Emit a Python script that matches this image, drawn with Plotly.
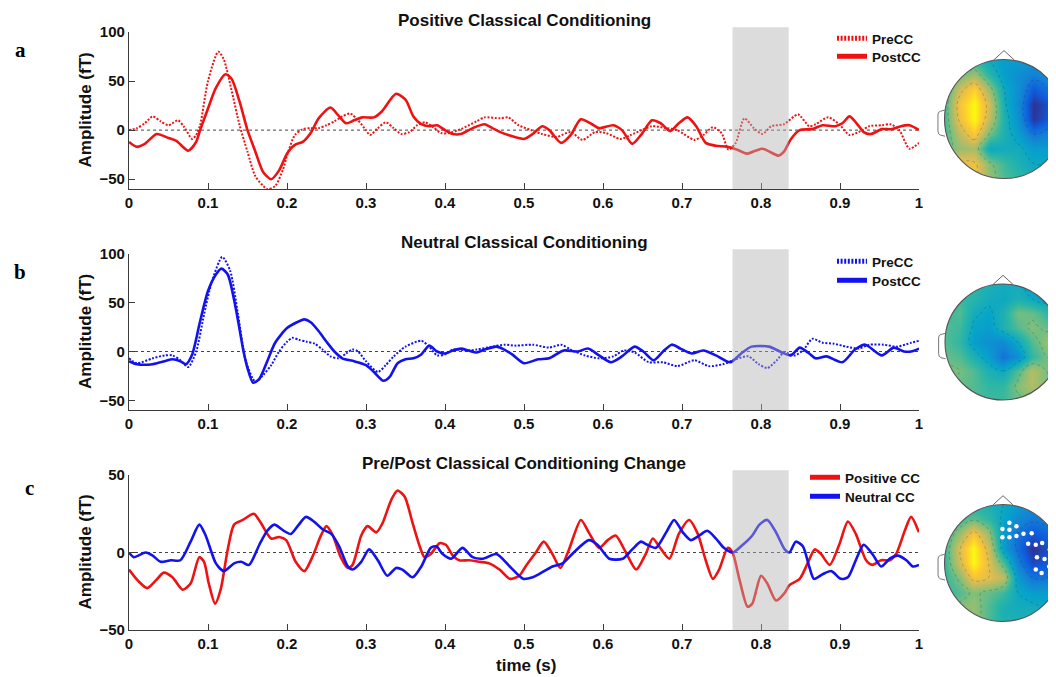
import plotly.graph_objects as go
import numpy as np

# ---------------- data ----------------
a_pre = [(0,0),(0.01,2),(0.02,7),(0.03,14),(0.04,9),(0.05,5),(0.062,10),(0.07,3),(0.08,-9),(0.085,-5),(0.09,5),(0.1,50),(0.113,80),(0.12,72),(0.13,40),(0.14,5),(0.15,-22),(0.16,-47),(0.175,-60),(0.185,-57),(0.195,-40),(0.2,-26),(0.21,-5),(0.22,1),(0.23,2),(0.24,2),(0.25,5),(0.26,9),(0.27,14),(0.28,17),(0.29,10),(0.3,0),(0.305,-5),(0.315,2),(0.325,8),(0.335,2),(0.345,-4),(0.355,-2),(0.365,5),(0.375,8),(0.385,3),(0.395,-3),(0.405,-3),(0.42,1),(0.44,9),(0.45,13),(0.47,12),(0.48,13),(0.493,5),(0.509,0),(0.523,-4),(0.541,-7),(0.559,-2),(0.574,-10),(0.59,-2),(0.604,-3),(0.622,-9),(0.635,-5),(0.649,0),(0.662,4),(0.68,2),(0.694,0),(0.716,-10),(0.727,-5),(0.739,3),(0.75,-3),(0.759,-20),(0.768,-13),(0.779,12),(0.791,2),(0.802,-4),(0.813,4),(0.829,6),(0.847,16),(0.861,4),(0.869,6),(0.885,13),(0.899,6),(0.912,-5),(0.926,-1),(0.937,4),(0.953,5),(0.964,6),(0.975,0),(0.988,-19),(1.0,-13)]
a_post = [(0,-12),(0.01,-17),(0.02,-14),(0.035,-4),(0.05,-8),(0.06,-11),(0.075,-21),(0.085,-12),(0.09,0),(0.1,22),(0.11,43),(0.122,57),(0.13,52),(0.14,29),(0.15,0),(0.16,-22),(0.17,-43),(0.18,-50),(0.19,-41),(0.2,-24),(0.21,-15),(0.22,-12),(0.23,-3),(0.24,12),(0.255,23),(0.265,15),(0.275,7),(0.285,10),(0.295,13),(0.31,13),(0.32,19),(0.338,37),(0.35,31),(0.36,14),(0.37,6),(0.38,4),(0.39,5),(0.4,0),(0.41,-4),(0.42,-4),(0.435,2),(0.45,6),(0.46,2),(0.47,-2),(0.48,-5),(0.5,-9),(0.511,-4),(0.523,4),(0.532,0),(0.547,-13),(0.559,-5),(0.572,11),(0.586,6),(0.595,2),(0.613,5),(0.624,0),(0.637,-14),(0.649,-4),(0.662,10),(0.673,7),(0.685,-1),(0.696,7),(0.707,13),(0.718,4),(0.73,-13),(0.743,-16),(0.757,-17),(0.77,-20),(0.782,-24),(0.793,-21),(0.802,-19),(0.811,-22),(0.822,-26),(0.829,-22),(0.838,-9),(0.849,0),(0.865,1),(0.878,5),(0.894,4),(0.903,7),(0.912,14),(0.921,7),(0.93,-2),(0.939,-4),(0.953,1),(0.966,1),(0.977,4),(0.988,5),(1.0,0)]
b_pre = [(0,-7),(0.01,-12),(0.03,-7),(0.045,-4),(0.055,-4),(0.065,-9),(0.075,-16),(0.085,0),(0.095,38),(0.105,72),(0.118,97),(0.128,83),(0.138,38),(0.148,-10),(0.16,-31),(0.17,-24),(0.18,-14),(0.19,0),(0.2,10),(0.207,14),(0.215,12),(0.225,10),(0.235,8),(0.245,2),(0.255,-5),(0.265,-7),(0.275,-2),(0.283,2),(0.29,0),(0.3,-10),(0.315,-21),(0.325,-14),(0.335,-5),(0.35,5),(0.37,11),(0.38,5),(0.39,-4),(0.4,-3),(0.41,2),(0.43,1),(0.44,2),(0.46,5),(0.475,7),(0.49,6),(0.511,7),(0.532,4),(0.547,7),(0.559,2),(0.577,-4),(0.595,-7),(0.613,-5),(0.626,1),(0.64,-1),(0.658,-11),(0.676,-11),(0.694,-15),(0.716,-9),(0.734,-15),(0.752,-13),(0.768,-8),(0.784,-5),(0.797,-13),(0.808,-17),(0.82,-9),(0.829,-1),(0.843,-4),(0.854,2),(0.865,13),(0.878,9),(0.892,8),(0.908,5),(0.924,3),(0.937,7),(0.955,7),(0.973,5),(0.99,9),(1.0,11)]
b_post = [(0,-10),(0.01,-13),(0.03,-13),(0.045,-10),(0.055,-8),(0.065,-10),(0.072,-13),(0.08,-3),(0.09,31),(0.1,62),(0.11,79),(0.117,85),(0.125,79),(0.135,45),(0.145,0),(0.15,-17),(0.157,-32),(0.165,-28),(0.175,-10),(0.185,9),(0.2,24),(0.21,29),(0.222,33),(0.23,30),(0.24,21),(0.25,10),(0.26,0),(0.27,-7),(0.285,-10),(0.3,-14),(0.31,-21),(0.322,-30),(0.33,-26),(0.34,-12),(0.35,-8),(0.36,-7),(0.37,-3),(0.38,6),(0.39,0),(0.4,-2),(0.41,1),(0.42,3),(0.43,1),(0.44,-1),(0.45,2),(0.465,5),(0.475,2),(0.485,-3),(0.5,-12),(0.518,-8),(0.532,-7),(0.55,1),(0.568,0),(0.581,3),(0.595,-4),(0.61,-11),(0.624,-5),(0.64,5),(0.651,0),(0.664,-9),(0.676,0),(0.687,7),(0.698,3),(0.712,-2),(0.727,1),(0.743,-4),(0.761,-11),(0.775,-2),(0.788,5),(0.81,5),(0.824,0),(0.838,-4),(0.849,4),(0.861,-2),(0.869,-7),(0.883,-5),(0.903,-11),(0.919,2),(0.932,7),(0.953,-4),(0.968,4),(0.981,0),(0.99,0),(1.0,3)]
c_pos = [(0,-11),(0.011,-18),(0.023,-23),(0.034,-18),(0.044,-13),(0.055,-16),(0.068,-24),(0.078,-20),(0.089,-3),(0.095,-6),(0.101,-20),(0.109,-33),(0.116,-24),(0.125,2),(0.133,18),(0.144,21),(0.158,25),(0.167,19),(0.18,9),(0.19,10),(0.199,8),(0.211,-6),(0.222,-12),(0.232,-3),(0.243,11),(0.25,17),(0.258,11),(0.268,-3),(0.277,-10),(0.283,-8),(0.294,11),(0.302,17),(0.313,13),(0.321,19),(0.332,34),(0.34,40),(0.349,36),(0.359,19),(0.368,4),(0.374,-3),(0.382,-1),(0.393,6),(0.401,5),(0.41,-2),(0.418,-5),(0.431,-5),(0.444,-6),(0.456,-7),(0.469,-11),(0.482,-17),(0.494,-15),(0.502,-9),(0.515,0),(0.525,7),(0.536,-1),(0.546,-10),(0.557,2),(0.572,21),(0.582,13),(0.595,3),(0.606,8),(0.616,11),(0.629,0),(0.642,-11),(0.654,-1),(0.663,9),(0.671,4),(0.684,-4),(0.696,12),(0.709,21),(0.72,12),(0.73,-5),(0.739,-17),(0.747,-11),(0.758,3),(0.764,0),(0.773,-18),(0.783,-35),(0.789,-33),(0.8,-15),(0.808,-20),(0.819,-31),(0.83,-26),(0.836,-21),(0.849,-17),(0.859,-7),(0.868,2),(0.876,-1),(0.887,-8),(0.899,5),(0.91,20),(0.92,12),(0.933,-5),(0.941,-8),(0.952,-5),(0.963,-5),(0.971,-1),(0.982,14),(0.99,23),(1.0,13)]
c_neu = [(0,0),(0.006,-3),(0.021,0),(0.03,-2),(0.04,-6),(0.053,-5),(0.065,-5),(0.078,7),(0.089,18),(0.097,11),(0.11,-7),(0.12,-12),(0.133,-7),(0.142,-6),(0.152,-8),(0.165,5),(0.175,14),(0.184,18),(0.196,14),(0.205,12),(0.215,18),(0.224,23),(0.234,20),(0.245,15),(0.256,12),(0.266,4),(0.277,-9),(0.283,-11),(0.294,-6),(0.304,2),(0.315,-5),(0.327,-15),(0.338,-10),(0.346,-11),(0.359,-16),(0.37,-9),(0.382,3),(0.389,4),(0.397,-1),(0.408,-4),(0.422,3),(0.435,-3),(0.448,-4),(0.465,-1),(0.482,-9),(0.499,-17),(0.511,-16),(0.519,-14),(0.536,-9),(0.549,-7),(0.563,0),(0.582,8),(0.593,5),(0.608,-4),(0.625,-4),(0.637,2),(0.648,7),(0.656,5),(0.667,3),(0.68,13),(0.69,21),(0.701,13),(0.711,8),(0.722,11),(0.732,14),(0.743,9),(0.753,3),(0.764,0),(0.777,5),(0.789,11),(0.798,18),(0.808,21),(0.819,13),(0.83,2),(0.836,0),(0.844,7),(0.853,4),(0.861,-9),(0.867,-17),(0.878,-14),(0.889,-12),(0.901,-17),(0.91,-16),(0.92,-5),(0.93,5),(0.941,-1),(0.952,-9),(0.963,-4),(0.973,-2),(0.984,-5),(0.992,-9),(1.0,-8)]

window = [0.764, 0.835]
x_ticks = [0, 0.1, 0.2, 0.3, 0.4, 0.5, 0.6, 0.7, 0.8, 0.9, 1]
x_ticklabels = ["0", "0.1", "0.2", "0.3", "0.4", "0.5", "0.6", "0.7", "0.8", "0.9", "1"]
titles = ["Positive Classical Conditioning", "Neutral Classical Conditioning",
          "Pre/Post Classical Conditioning Change"]
letters = ["a", "b", "c"]

# topographic maps: 9x9 grid, rows from bottom (y=-1) to top (y=1)
topo_grid = [-1, -0.75, -0.5, -0.25, 0, 0.25, 0.5, 0.75, 1]
topo_a = [
    [0.80,0.85,0.85,0.65,0.55,0.50,0.45,0.45,0.45],
    [0.75,0.82,0.82,0.62,0.52,0.45,0.40,0.40,0.40],
    [0.55,0.65,0.68,0.40,0.42,0.42,0.35,0.35,0.40],
    [0.52,0.72,0.88,0.60,0.45,0.35,0.20,0.25,0.35],
    [0.52,0.82,1.00,0.72,0.45,0.30,0.03,0.12,0.30],
    [0.52,0.85,1.00,0.75,0.42,0.28,0.02,0.10,0.30],
    [0.50,0.75,0.90,0.65,0.40,0.30,0.12,0.20,0.30],
    [0.50,0.58,0.66,0.48,0.35,0.30,0.25,0.30,0.35],
    [0.50,0.50,0.48,0.40,0.35,0.35,0.30,0.35,0.40]]
topo_b = [
    [0.55,0.55,0.55,0.52,0.52,0.58,0.60,0.55,0.55],
    [0.60,0.58,0.55,0.50,0.50,0.62,0.70,0.60,0.55],
    [0.62,0.60,0.55,0.45,0.40,0.55,0.70,0.60,0.58],
    [0.58,0.55,0.45,0.35,0.20,0.30,0.50,0.60,0.62],
    [0.55,0.50,0.35,0.30,0.28,0.40,0.55,0.65,0.66],
    [0.55,0.52,0.38,0.35,0.45,0.55,0.62,0.58,0.60],
    [0.52,0.55,0.42,0.38,0.45,0.60,0.58,0.50,0.50],
    [0.50,0.52,0.48,0.42,0.40,0.45,0.40,0.35,0.40],
    [0.50,0.50,0.48,0.45,0.42,0.42,0.35,0.28,0.32]]
topo_c = [
    [0.60,0.65,0.65,0.55,0.45,0.45,0.45,0.45,0.45],
    [0.55,0.62,0.65,0.55,0.45,0.42,0.42,0.40,0.40],
    [0.50,0.55,0.62,0.58,0.52,0.40,0.35,0.35,0.40],
    [0.50,0.62,0.85,0.80,0.72,0.35,0.20,0.20,0.30],
    [0.50,0.75,1.00,0.80,0.55,0.25,0.08,0.12,0.25],
    [0.50,0.78,1.00,0.75,0.35,0.18,0.02,0.08,0.20],
    [0.50,0.65,0.85,0.65,0.35,0.20,0.12,0.15,0.25],
    [0.50,0.52,0.58,0.50,0.38,0.28,0.22,0.25,0.30],
    [0.45,0.45,0.45,0.45,0.40,0.35,0.30,0.30,0.35]]
sensor_x = [0.11,-0.01,0.11,0.23,-0.01,0.11,0.23,0.35,0.49,0.43,0.56,0.67,0.80,0.58,0.71,0.79,0.56,0.66]
sensor_y = [0.69,0.58,0.57,0.63,0.44,0.44,0.46,0.50,0.51,0.33,0.31,0.34,0.23,0.10,0.07,-0.06,-0.11,-0.17]

parula = [[0.0, "rgb(53,42,135)"], [0.125, "rgb(15,92,221)"], [0.25, "rgb(20,129,214)"],
          [0.375, "rgb(6,164,202)"], [0.5, "rgb(46,183,164)"], [0.625, "rgb(135,191,119)"],
          [0.75, "rgb(209,187,89)"], [0.875, "rgb(254,200,50)"], [1.0, "rgb(249,251,14)"]]

RED = "rgb(238,18,18)"
BLUE = "rgb(18,18,238)"

# ---------------- layout geometry (screen pixels of the 1056x677 window) ----------------
OFF = 8                      # page body margin of the html page
W, H = 1056 - OFF, 677 - OFF
X0, X1 = 129, 919
panels_px = [(32, 189, [-60, 100], [100, 50, 0, -50]),
             (254, 410, [-60, 100], [100, 50, 0, -50]),
             (475, 630, [-50, 50], [50, 0, -50])]
heads_px = [(1004, 119, 59.5, 40, 200), (1003, 342, 58, 262, 420), (1003, 563, 58.5, 485, 640)]
legend_px = [(832, 23), (832, 41), (832, 246), (832, 265), (805, 462), (805, 481)]

def px(x):
    return (x - OFF) / W

def py(y):
    return 1 - (y - OFF) / H

fig = go.Figure()

def add_line(data, xa, ya, color, dash, width, name, legend):
    t = [p[0] for p in data]
    v = [p[1] for p in data]
    fig.add_trace(go.Scatter(x=t, y=v, mode="lines", name=name, xaxis=xa, yaxis=ya,
                             line=dict(color=color, width=width, dash=dash, shape="spline", smoothing=0.7),
                             legend=legend, showlegend=True, hoverinfo="skip"))

DOT = "2px,1.6px"
add_line(a_pre, "x", "y", RED, DOT, 2, "PreCC", "legend")
add_line(a_post, "x", "y", RED, "solid", 2.6, "PostCC", "legend2")
add_line(b_pre, "x2", "y2", BLUE, DOT, 2, "PreCC", "legend3")
add_line(b_post, "x2", "y2", BLUE, "solid", 2.6, "PostCC", "legend4")
add_line(c_pos, "x3", "y3", RED, "solid", 2.6, "Positive CC", "legend5")
add_line(c_neu, "x3", "y3", BLUE, "solid", 2.6, "Neutral CC", "legend6")

layout = dict(width=W, height=H, margin=dict(l=0, r=0, t=0, b=0, pad=0, autoexpand=False),
              autosize=False,
              paper_bgcolor="white", plot_bgcolor="rgba(0,0,0,0)",
              font=dict(family="Liberation Sans, Arial", color="black"))
shapes = []
annotations = []
AXC = "#3c3c3c"
TXT = "#111"
for i, (top, bot, yr, yt) in enumerate(panels_px):
    s = "" if i == 0 else str(i + 1)
    layout["xaxis" + s] = dict(domain=[px(X0), px(X1)], range=[0, 1], anchor="y" + s, automargin=False,
                               showline=True, linecolor=AXC, linewidth=1.3, ticks="inside",
                               ticklen=6, tickwidth=1.3, tickcolor=AXC, showgrid=False, zeroline=False,
                               tickvals=x_ticks, ticktext=x_ticklabels,
                               tickfont=dict(size=15, weight="bold", color=TXT))
    layout["yaxis" + s] = dict(domain=[py(bot), py(top)], range=yr, anchor="x" + s, automargin=False,
                               showline=True, linecolor=AXC, linewidth=1.3, ticks="inside",
                               ticklen=6, tickwidth=1.3, tickcolor=AXC, showgrid=False, zeroline=False,
                               tickvals=yt, tickfont=dict(size=15, weight="bold", color=TXT))
    shapes.append(dict(type="line", xref="x" + s + " domain", yref="y" + s, x0=0, x1=1, y0=0, y1=0,
                       line=dict(color="#444", width=1, dash="dot"), layer="below"))
    shapes.append(dict(type="rect", xref="x" + s, yref="y" + s + " domain", x0=window[0], x1=window[1],
                       y0=0, y1=1.03, fillcolor="rgba(178,178,178,0.45)", line=dict(width=0), layer="above"))
    annotations.append(dict(text=titles[i], x=px(524), y=py(top - 12), xref="paper", yref="paper",
                            xanchor="center", yanchor="middle",
                            showarrow=False, font=dict(size=17, weight="bold", color=TXT)))
    annotations.append(dict(text=letters[i], x=px(20 if i < 2 else 29), y=py(top + (18 if i < 2 else 13)),
                            xref="paper", yref="paper",
                            xanchor="center", yanchor="middle", showarrow=False,
                            font=dict(size=21, weight="bold", family="Liberation Serif, Times New Roman", color="black")))
    annotations.append(dict(text="Amplitude (fT)", x=px(85), y=py((top + bot) / 2), xref="paper", yref="paper",
                            xanchor="center", yanchor="middle",
                            textangle=-90, showarrow=False, font=dict(size=17, weight="bold", color=TXT)))

annotations.append(dict(text="time (s)", x=px(526), y=py(665), xref="paper", yref="paper",
                        xanchor="center", yanchor="middle",
                        showarrow=False, font=dict(size=17, weight="bold", color=TXT)))

leg_common = dict(bgcolor="rgba(0,0,0,0)", borderwidth=0, font=dict(size=13.5, weight="bold", color=TXT),
                  xanchor="left", yanchor="top", tracegroupgap=0, itemsizing="constant")
for k, (lx, ly) in enumerate(legend_px):
    key = "legend" if k == 0 else "legend" + str(k + 1)
    layout[key] = dict(x=px(lx), y=py(ly), **leg_common)

theta = np.linspace(0, 2 * np.pi, 121)
circ = " ".join(("M" if k == 0 else "L") + f"{np.cos(a):.4f},{np.sin(a):.4f}" for k, a in enumerate(theta)) + " Z"
mask_path = "M-4,-4 L4,-4 L4,4 L-4,4 Z " + circ
topos = [topo_a, topo_b, topo_c]
for i, (cx, cy, r, ytop, ybot) in enumerate(heads_px):
    n = str(4 + i)
    xl, xr = 930, 1056
    layout["xaxis" + n] = dict(domain=[px(xl), px(xr)], range=[(xl - cx) / r, (xr - cx) / r],
                               anchor="y" + n, visible=False, fixedrange=True, automargin=False)
    layout["yaxis" + n] = dict(domain=[py(ybot), py(ytop)], range=[(cy - ybot) / r, (cy - ytop) / r],
                               anchor="x" + n, visible=False, fixedrange=True, automargin=False)
    fig.add_trace(go.Contour(x=topo_grid, y=topo_grid, z=topos[i], xaxis="x" + n, yaxis="y" + n,
                             colorscale=parula, zmin=0, zmax=1, showscale=False, ncontours=9,
                             contours=dict(coloring="heatmap", showlines=True),
                             line=dict(color="rgba(40,40,40,0.35)", width=0.7, smoothing=1.2, dash="dot"),
                             hoverinfo="skip", showlegend=False))
    shapes.append(dict(type="path", xref="x" + n, yref="y" + n, path=mask_path, fillcolor="white",
                       fillrule="evenodd", line=dict(width=0), layer="above"))
    shapes.append(dict(type="circle", xref="x" + n, yref="y" + n, x0=-1, y0=-1, x1=1, y1=1,
                       line=dict(color="#555", width=1.1), layer="above"))
    shapes.append(dict(type="path", xref="x" + n, yref="y" + n,
                       path="M-0.18,0.985 L0,1.15 L0.18,0.985",
                       line=dict(color="#666", width=1), layer="above"))
    shapes.append(dict(type="path", xref="x" + n, yref="y" + n,
                       path="M-0.99,0.15 L-1.07,0.13 Q-1.11,0.12 -1.11,0.07 L-1.11,-0.2 Q-1.11,-0.26 -1.07,-0.27 L-0.99,-0.29",
                       line=dict(color="#777", width=1), layer="above"))
    if i == 2:
        fig.add_trace(go.Scatter(x=sensor_x, y=sensor_y, mode="markers", xaxis="x" + n, yaxis="y" + n,
                                 marker=dict(color="white", size=4.5), hoverinfo="skip", showlegend=False))

layout["shapes"] = shapes
layout["annotations"] = annotations
fig.update_layout(**layout)
fig.write_html("out.html")
